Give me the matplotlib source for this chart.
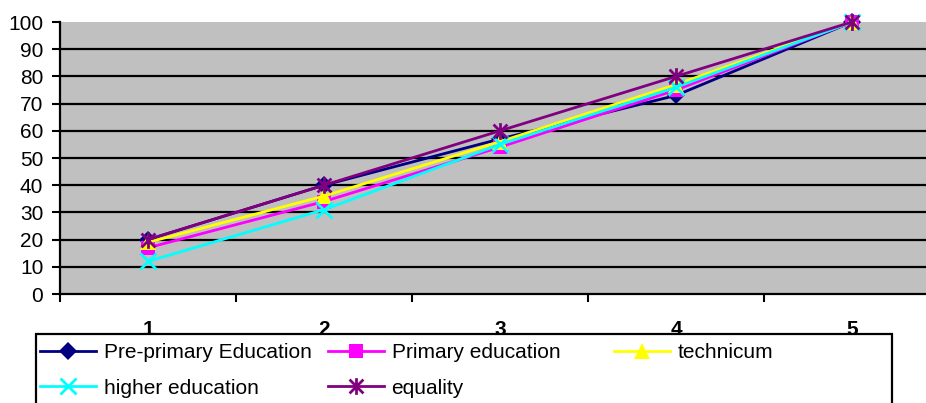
import matplotlib
matplotlib.use("Agg")
import matplotlib.pyplot as plt
from matplotlib.path import Path
from matplotlib.patches import Rectangle

plt.rcParams['font.family'] = ['Liberation Sans', 'DejaVu Sans']

categories = [1, 2, 3, 4, 5]
series_names = ["Pre-primary Education", "Primary education", "technicum",
                "higher education", "equality"]
pre_primary = [20, 40, 57, 73, 100]
primary = [17, 34, 54, 75, 100]
technicum = [19, 36, 56, 77, 100]
higher = [12, 31, 55, 76, 100]
equality = [20, 40, 60, 80, 100]
y_ticks = list(range(0, 101, 10))

# Excel-style star marker: X with a vertical bar
star = Path([(-1, -1), (1, 1), (-1, 1), (1, -1), (0, -1.2), (0, 1.2)],
            [Path.MOVETO, Path.LINETO, Path.MOVETO, Path.LINETO, Path.MOVETO, Path.LINETO])

styles = [
    dict(color="#000080", marker="D", ms=9, mew=0),
    dict(color="#FF00FF", marker="s", ms=10, mew=0),
    dict(color="#FFFF00", marker="^", ms=11, mew=0),
    dict(color="#00FFFF", marker="x", ms=11, mew=2),
    dict(color="#800080", marker=star, ms=12, mew=2),
]
data = [pre_primary, primary, technicum, higher, equality]

FS = 15

fig = plt.figure(figsize=(9.26, 4.03), dpi=100)
ax = fig.add_axes([60/926, 109/403, 880/926, 272/403])
ax.set_facecolor("#C0C0C0")

handles = []
for name, vals, st in zip(series_names, data, styles):
    h, = ax.plot(categories, vals, color=st["color"], lw=2.0, marker=st["marker"],
                 ms=st["ms"], mew=st["mew"], mec=st["color"], mfc=st["color"],
                 label=name, clip_on=False, zorder=3)
    handles.append(h)

ax.set_xlim(0.5, 5.5)
ax.set_ylim(0, 100)
for v in y_ticks[1:-1]:
    ax.axhline(v, color="black", lw=1.6, zorder=1)

for s in ["top", "right"]:
    ax.spines[s].set_visible(False)
ax.spines["left"].set_linewidth(1.6)
ax.spines["bottom"].set_linewidth(1.6)

ax.set_yticks(y_ticks)
ax.set_yticklabels([str(v) for v in y_ticks], fontsize=FS)
ax.tick_params(axis="y", direction="out", length=6, width=1.5, pad=6)

ax.set_xticks(categories)
ax.set_xticklabels([str(c) for c in categories], fontsize=FS, fontweight="bold")
ax.set_xticks([0.5, 1.5, 2.5, 3.5, 4.5], minor=True)
ax.tick_params(axis="x", which="major", length=0, pad=19)
ax.tick_params(axis="x", which="minor", direction="out", length=6, width=1.5)

# legend frame
fig.add_artist(Rectangle((36/926, -0.2), (892-36)/926, 0.2 + (403-334)/403,
                         transform=fig.transFigure, fill=False, lw=1.6,
                         edgecolor="black"))

col_x = [40/926, 328/926, 614/926]
cols = [[0, 3], [1, 4], [2]]
for cx, idx in zip(col_x, cols):
    fig.legend([handles[i] for i in idx], [series_names[i] for i in idx],
               loc="upper left", bbox_to_anchor=(cx, (403-343)/403),
               frameon=False, fontsize=FS, handlelength=2.7, handletextpad=0.35,
               borderpad=0, borderaxespad=0, labelspacing=0.8, numpoints=1,
               markerscale=1.0)

fig.savefig("out.png", dpi=100)
